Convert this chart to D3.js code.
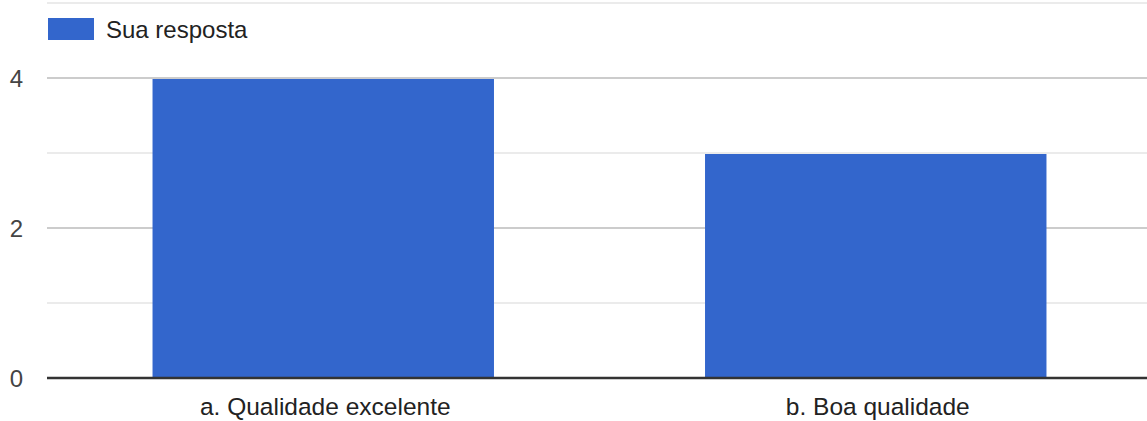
<!DOCTYPE html>
<html>
<head>
<meta charset="utf-8">
<script src="https://cdn.jsdelivr.net/npm/d3@7"></script>
<style>
  html, body { margin: 0; padding: 0; background: #fff; }
  svg { display: block; font-family: "Liberation Sans", Arial, sans-serif; }
</style>
</head>
<body>
<svg id="chart" width="1147" height="421"></svg>
<script>
const categories = ["a. Qualidade excelente", "b. Boa qualidade"];
const values = [4, 3];
const seriesName = "Sua resposta";
const majorTicks = [0, 2, 4];
const minorTicks = [1, 3, 5];

const svg = d3.select("#chart");
const W = 1147, H = 421;
const left = 47, right = 1152;

const x = d3.scaleBand().domain(categories).range([left, right])
  .paddingInner(0.382).paddingOuter(0.191);
const y = d3.scaleLinear().domain([0, 5]).range([378, 3]);

// minor gridlines
svg.append("g").selectAll("line").data(minorTicks).join("line")
  .attr("x1", left).attr("x2", W)
  .attr("y1", d => y(d)).attr("y2", d => y(d))
  .attr("stroke", "#ebebeb").attr("stroke-width", 2)
  .attr("shape-rendering", "crispEdges");

// major gridlines
svg.append("g").selectAll("line").data(majorTicks.filter(d => d !== 0)).join("line")
  .attr("x1", left).attr("x2", W)
  .attr("y1", d => y(d)).attr("y2", d => y(d))
  .attr("stroke", "#cccccc").attr("stroke-width", 2)
  .attr("shape-rendering", "crispEdges");

// bars
svg.append("g").selectAll("rect").data(categories).join("rect")
  .attr("x", d => x(d))
  .attr("width", x.bandwidth())
  .attr("y", (d, i) => y(values[i]) + 1)
  .attr("height", (d, i) => y(0) - y(values[i]) - 1)
  .attr("fill", "#3366cc");

// baseline
svg.append("line")
  .attr("x1", left).attr("x2", W)
  .attr("y1", y(0)).attr("y2", y(0))
  .attr("stroke", "#333333").attr("stroke-width", 2.5);

// y tick labels
const yAxis = d3.axisLeft(y).tickValues(majorTicks).tickSize(0).tickPadding(0).tickFormat(d3.format("d"));
const ga = svg.append("g").attr("transform", "translate(23,0)").call(yAxis);
ga.select(".domain").remove();
ga.selectAll("text").attr("font-size", 24).attr("fill", "#444444")
  .attr("font-family", "Liberation Sans, Arial, sans-serif").attr("dy", "0.36em");

// x labels
const xAxis = d3.axisBottom(x).tickSize(0).tickPadding(0);
const gx = svg.append("g").attr("transform", "translate(2,0)").call(xAxis);
gx.select(".domain").remove();
gx.selectAll("text").attr("font-size", 24.5).attr("fill", "#222222")
  .attr("font-family", "Liberation Sans, Arial, sans-serif")
  .attr("y", 415).attr("dy", null);

// legend
const lg = svg.append("g");
lg.append("rect").attr("x", 48).attr("y", 18).attr("width", 46).attr("height", 22).attr("fill", "#3366cc");
lg.append("text").attr("x", 106).attr("y", 38).attr("font-size", 24).attr("fill", "#222222")
  .text(seriesName);
</script>
</body>
</html>
